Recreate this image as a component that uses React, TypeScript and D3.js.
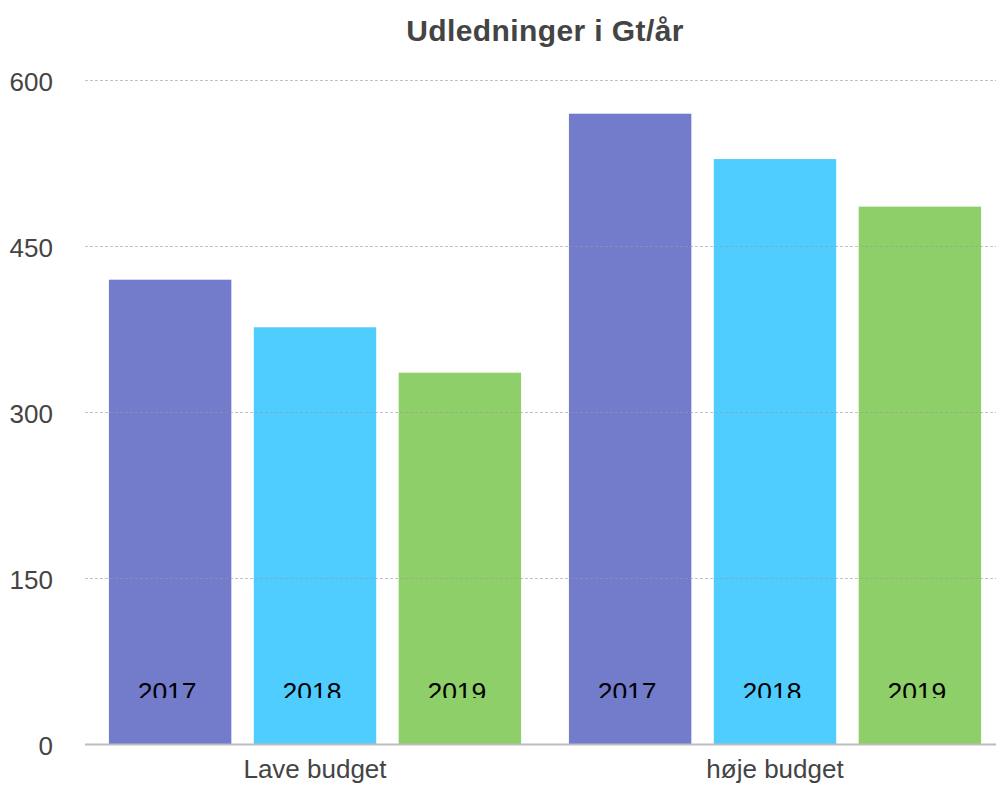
import React, { useEffect, useRef } from 'react';
import * as d3 from 'd3';

const categories = ['Lave budget', 'høje budget'];
const years = ['2017', '2018', '2019'];
const values2017 = [420, 570];
const values2018 = [377, 529];
const values2019 = [336, 486];
const yTicks = [0, 150, 300, 450, 600];
const colors = ['#737bcb', '#4fcdff', '#8ecf6a'];

const W = 996;
const H = 785;
const FONT = '"Liberation Sans", Arial, Helvetica, sans-serif';

const draw = (node: SVGSVGElement) => {
    const svg = d3.select(node);
    svg.selectAll('*').remove();

    const series = [values2017, values2018, values2019];
    const margin = { top: 80.5, left: 85, bottom: 744.5 };

    const x0 = d3.scaleBand<string>()
        .domain(categories)
        .range([margin.left, 1005])
        .paddingInner(0.104)
        .paddingOuter(0.052);

    const x1 = d3.scaleBand<string>()
        .domain(years)
        .range([0, x0.bandwidth()])
        .paddingInner(0.155)
        .paddingOuter(0);

    const y = d3.scaleLinear()
        .domain([0, 600])
        .range([margin.bottom, margin.top]);

    // title
    svg.append('text')
        .attr('x', 545)
        .attr('y', 41)
        .attr('text-anchor', 'middle')
        .attr('font-family', FONT)
        .attr('font-weight', 'bold')
        .attr('font-size', 30)
        .attr('letter-spacing', 0.4)
        .attr('fill', '#444')
        .text('Udledninger i Gt/år');

    // clip for the year labels (they are cut off at the bottom)
    svg.append('defs')
        .append('clipPath')
        .attr('id', 'yearClip')
        .append('rect')
        .attr('x', 0)
        .attr('y', 0)
        .attr('width', W)
        .attr('height', 698);

    const groups = svg.append('g')
        .selectAll('g')
        .data(categories)
        .enter()
        .append('g')
        .attr('transform', d => `translate(${x0(d)},0)`);

    groups.selectAll('rect')
        .data((d, i) => years.map((yr, j) => ({ yr, v: series[j][i], j })))
        .enter()
        .append('rect')
        .attr('x', d => x1(d.yr) as number)
        .attr('width', x1.bandwidth())
        .attr('y', d => y(d.v))
        .attr('height', d => y(0) - y(d.v))
        .attr('fill', d => colors[d.j]);

    groups.selectAll('text.year')
        .data(years)
        .enter()
        .append('text')
        .attr('class', 'year')
        .attr('x', d => (x1(d) as number) + x1.bandwidth() / 2 - 3)
        .attr('y', 701)
        .attr('text-anchor', 'middle')
        .attr('font-family', FONT)
        .attr('font-size', 26.5)
        .attr('fill', '#000')
        .attr('clip-path', 'url(#yearClip)')
        .text(d => d);

    // gridlines over the bars
    svg.append('g')
        .selectAll('line')
        .data(yTicks.filter(t => t > 0))
        .enter()
        .append('line')
        .attr('x1', margin.left)
        .attr('x2', W)
        .attr('y1', d => y(d))
        .attr('y2', d => y(d))
        .attr('stroke', '#999')
        .attr('stroke-opacity', 0.6)
        .attr('stroke-width', 1)
        .attr('stroke-dasharray', '3,2');

    // baseline
    svg.append('line')
        .attr('x1', margin.left)
        .attr('x2', W)
        .attr('y1', y(0))
        .attr('y2', y(0))
        .attr('stroke', '#bbb')
        .attr('stroke-width', 2);

    // y tick labels
    svg.append('g')
        .selectAll('text')
        .data(yTicks)
        .enter()
        .append('text')
        .attr('x', 53)
        .attr('y', d => y(d) + 10)
        .attr('text-anchor', 'end')
        .attr('font-family', FONT)
        .attr('font-size', 26)
        .attr('fill', '#444')
        .text(d => d);

    // category labels
    svg.append('g')
        .selectAll('text')
        .data(categories)
        .enter()
        .append('text')
        .attr('x', d => (x0(d) as number) + x0.bandwidth() / 2)
        .attr('y', 778)
        .attr('text-anchor', 'middle')
        .attr('font-family', FONT)
        .attr('font-size', 26)
        .attr('fill', '#444')
        .text(d => d);
};

export default function App() {
    const ref = useRef<SVGSVGElement>(null);
    useEffect(() => {
        if (ref.current) draw(ref.current);
    }, []);
    return (
        <svg
            ref={ref}
            width={W}
            height={H}
            style={{ position: 'absolute', left: 0, top: 0, background: '#fff' }}
        />
    );
}
